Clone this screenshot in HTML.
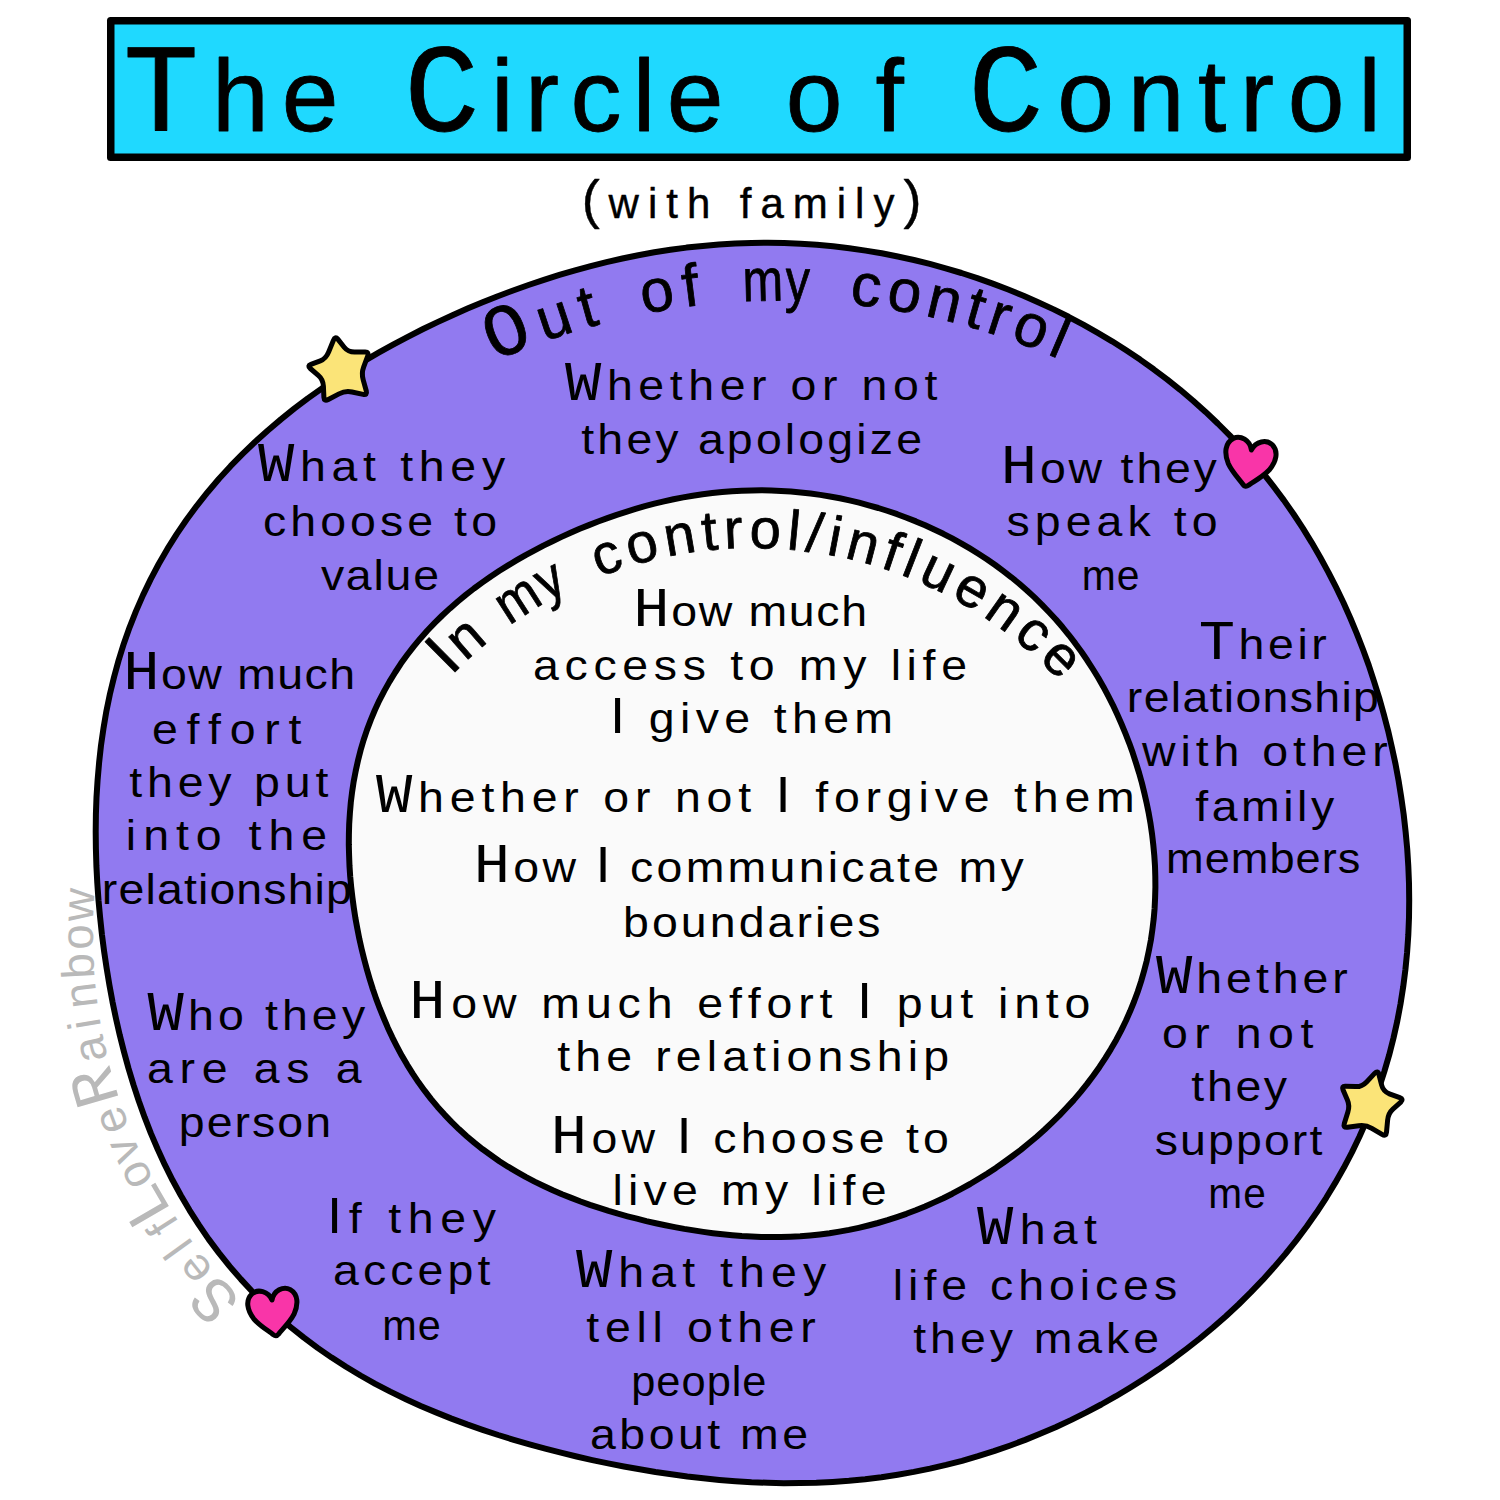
<!DOCTYPE html>
<html><head><meta charset="utf-8"><title>The Circle of Control</title>
<style>html,body{margin:0;padding:0;background:#fff;} svg{display:block;} text{font-family:"Liberation Sans", sans-serif;} .m{font-family:"Liberation Mono", monospace;}</style>
</head><body>
<svg width="1500" height="1500" viewBox="0 0 1500 1500">
<rect x="0" y="0" width="1500" height="1500" fill="#fff"/>
<rect x="107" y="17" width="1304" height="144" rx="3.5" fill="#000"/>
<rect x="114.5" y="24.5" width="1289" height="129" fill="#1fd9ff"/>
<path d="M1408.3 866.0 L1409.0 883.2 L1409.2 900.5 L1409.0 917.7 L1408.3 935.0 L1407.1 952.3 L1405.4 969.6 L1403.2 986.8 L1400.5 1004.0 L1397.3 1021.0 L1393.5 1038.0 L1389.2 1054.9 L1384.3 1071.6 L1378.9 1088.2 L1373.0 1104.6 L1366.5 1120.7 L1359.4 1136.7 L1351.9 1152.4 L1343.8 1167.8 L1335.2 1182.9 L1326.2 1197.8 L1316.7 1212.3 L1306.7 1226.5 L1296.3 1240.4 L1285.5 1253.9 L1274.2 1267.1 L1262.7 1279.9 L1250.7 1292.4 L1238.5 1304.5 L1225.9 1316.2 L1213.0 1327.5 L1199.8 1338.5 L1186.4 1349.0 L1172.8 1359.2 L1158.9 1369.1 L1144.7 1378.5 L1130.4 1387.5 L1115.9 1396.2 L1101.2 1404.5 L1086.3 1412.4 L1071.3 1419.9 L1056.1 1427.0 L1040.7 1433.6 L1025.2 1439.9 L1009.6 1445.7 L993.9 1451.2 L978.0 1456.2 L962.1 1460.8 L946.1 1464.9 L930.0 1468.6 L913.8 1471.9 L897.6 1474.7 L881.4 1477.2 L865.1 1479.2 L848.9 1480.8 L832.6 1481.9 L816.3 1482.7 L800.1 1483.1 L783.8 1483.2 L767.7 1482.8 L751.5 1482.2 L735.4 1481.2 L719.3 1479.9 L703.3 1478.3 L687.3 1476.5 L671.4 1474.3 L655.5 1472.0 L639.7 1469.3 L623.9 1466.5 L608.1 1463.4 L592.3 1460.1 L576.6 1456.5 L560.9 1452.7 L545.2 1448.7 L529.5 1444.4 L513.8 1439.8 L498.2 1435.0 L482.6 1429.8 L467.0 1424.4 L451.5 1418.6 L436.0 1412.4 L420.7 1405.9 L405.4 1398.9 L390.3 1391.6 L375.3 1383.8 L360.5 1375.5 L346.0 1366.8 L331.7 1357.6 L317.6 1347.9 L303.9 1337.7 L290.5 1327.0 L277.5 1315.8 L264.9 1304.1 L252.7 1292.0 L241.0 1279.4 L229.7 1266.4 L218.9 1252.9 L208.6 1239.1 L198.9 1224.9 L189.6 1210.3 L180.9 1195.5 L172.6 1180.3 L164.9 1164.9 L157.7 1149.2 L150.9 1133.4 L144.7 1117.4 L138.9 1101.2 L133.5 1084.9 L128.5 1068.4 L124.0 1051.9 L119.8 1035.3 L116.0 1018.6 L112.5 1001.8 L109.4 985.0 L106.6 968.1 L104.1 951.2 L101.9 934.3 L100.1 917.3 L98.5 900.2 L97.3 883.1 L96.4 866.0 L95.9 848.8 L95.7 831.6 L95.9 814.4 L96.5 797.2 L97.6 779.9 L99.1 762.7 L101.0 745.4 L103.5 728.3 L106.4 711.1 L109.9 694.1 L114.0 677.2 L118.6 660.4 L123.8 643.7 L129.6 627.3 L136.0 611.1 L143.0 595.1 L150.6 579.4 L158.7 564.0 L167.4 548.9 L176.7 534.1 L186.5 519.8 L196.8 505.8 L207.6 492.2 L218.8 479.0 L230.5 466.2 L242.6 453.9 L255.0 442.0 L267.8 430.5 L280.9 419.4 L294.2 408.7 L307.8 398.4 L321.6 388.6 L335.6 379.1 L349.8 369.9 L364.1 361.1 L378.6 352.7 L393.1 344.6 L407.8 336.8 L422.6 329.3 L437.5 322.1 L452.5 315.2 L467.5 308.6 L482.6 302.3 L497.8 296.2 L513.1 290.5 L528.5 285.0 L543.9 279.8 L559.4 274.9 L575.1 270.3 L590.7 266.1 L606.5 262.1 L622.4 258.5 L638.3 255.2 L654.3 252.3 L670.4 249.8 L686.5 247.6 L702.7 245.9 L718.9 244.5 L735.2 243.5 L751.5 242.9 L767.8 242.8 L784.1 243.0 L800.5 243.7 L816.8 244.8 L833.1 246.3 L849.3 248.2 L865.6 250.6 L881.7 253.3 L897.8 256.5 L913.9 260.0 L929.8 263.9 L945.7 268.3 L961.5 273.0 L977.2 278.1 L992.7 283.6 L1008.2 289.5 L1023.5 295.7 L1038.7 302.4 L1053.7 309.4 L1068.6 316.8 L1083.3 324.6 L1097.8 332.8 L1112.1 341.3 L1126.2 350.3 L1140.1 359.6 L1153.7 369.3 L1167.1 379.4 L1180.2 389.8 L1193.1 400.7 L1205.6 411.9 L1217.8 423.5 L1229.7 435.4 L1241.3 447.7 L1252.5 460.3 L1263.3 473.3 L1273.7 486.6 L1283.8 500.1 L1293.5 514.0 L1302.8 528.2 L1311.7 542.6 L1320.2 557.2 L1328.3 572.1 L1336.0 587.2 L1343.4 602.5 L1350.3 618.0 L1356.8 633.6 L1363.0 649.5 L1368.8 665.4 L1374.1 681.6 L1379.2 697.8 L1383.8 714.2 L1388.1 730.7 L1391.9 747.3 L1395.5 764.0 L1398.6 780.8 L1401.3 797.7 L1403.7 814.7 L1405.6 831.7 L1407.2 848.8 Z" fill="#917af0" stroke="#000" stroke-width="6.0" stroke-linejoin="round"/>
<path d="M1155.0 866.0 L1155.3 876.6 L1155.4 887.2 L1155.1 897.8 L1154.6 908.4 L1153.7 918.9 L1152.4 929.5 L1150.9 940.0 L1148.9 950.5 L1146.7 960.9 L1144.0 971.2 L1141.1 981.4 L1137.8 991.5 L1134.1 1001.5 L1130.1 1011.3 L1125.8 1021.0 L1121.1 1030.6 L1116.2 1039.9 L1110.9 1049.1 L1105.3 1058.1 L1099.5 1066.9 L1093.4 1075.5 L1087.1 1083.9 L1080.5 1092.1 L1073.7 1100.1 L1066.6 1107.8 L1059.4 1115.4 L1052.0 1122.7 L1044.5 1129.8 L1036.7 1136.7 L1028.8 1143.3 L1020.8 1149.8 L1012.6 1156.0 L1004.3 1162.0 L995.9 1167.9 L987.4 1173.5 L978.8 1178.8 L970.1 1184.0 L961.2 1188.9 L952.3 1193.7 L943.3 1198.2 L934.2 1202.4 L925.0 1206.5 L915.7 1210.3 L906.4 1213.8 L896.9 1217.1 L887.5 1220.2 L877.9 1223.0 L868.3 1225.5 L858.7 1227.8 L849.0 1229.9 L839.3 1231.6 L829.5 1233.2 L819.8 1234.4 L810.0 1235.4 L800.2 1236.2 L790.5 1236.7 L780.7 1237.0 L770.9 1237.1 L761.2 1236.9 L751.5 1236.5 L741.8 1236.0 L732.2 1235.2 L722.5 1234.3 L712.9 1233.2 L703.3 1231.9 L693.8 1230.4 L684.2 1228.9 L674.7 1227.1 L665.3 1225.2 L655.8 1223.2 L646.3 1221.1 L636.9 1218.7 L627.5 1216.3 L618.0 1213.7 L608.6 1210.9 L599.3 1207.9 L589.9 1204.8 L580.6 1201.5 L571.3 1197.9 L562.0 1194.2 L552.8 1190.2 L543.7 1186.0 L534.6 1181.6 L525.6 1176.9 L516.8 1171.9 L508.0 1166.7 L499.4 1161.2 L491.0 1155.3 L482.7 1149.3 L474.6 1142.9 L466.7 1136.2 L459.1 1129.3 L451.7 1122.1 L444.5 1114.6 L437.6 1106.9 L430.9 1098.9 L424.6 1090.7 L418.5 1082.3 L412.7 1073.6 L407.2 1064.8 L401.9 1055.8 L397.0 1046.6 L392.3 1037.3 L387.9 1027.9 L383.8 1018.3 L379.9 1008.7 L376.2 998.9 L372.8 989.0 L369.7 979.1 L366.8 969.1 L364.1 959.0 L361.6 948.9 L359.3 938.7 L357.3 928.4 L355.4 918.1 L353.8 907.8 L352.4 897.4 L351.2 887.0 L350.2 876.5 L349.5 866.0 L349.1 855.5 L348.8 844.9 L348.9 834.3 L349.2 823.7 L349.9 813.1 L350.8 802.5 L352.1 792.0 L353.7 781.4 L355.7 771.0 L358.0 760.5 L360.6 750.2 L363.6 740.0 L367.0 729.9 L370.8 719.9 L374.9 710.0 L379.4 700.3 L384.3 690.9 L389.5 681.6 L395.1 672.5 L400.9 663.6 L407.1 655.0 L413.6 646.6 L420.4 638.4 L427.4 630.5 L434.7 622.9 L442.2 615.5 L449.9 608.4 L457.8 601.5 L465.8 594.9 L474.0 588.5 L482.4 582.4 L490.8 576.5 L499.4 570.8 L508.1 565.4 L516.8 560.2 L525.6 555.1 L534.5 550.3 L543.4 545.6 L552.4 541.2 L561.5 536.9 L570.6 532.8 L579.7 528.8 L588.9 525.1 L598.1 521.5 L607.4 518.1 L616.7 514.8 L626.1 511.8 L635.5 508.9 L644.9 506.2 L654.4 503.7 L664.0 501.4 L673.5 499.3 L683.2 497.4 L692.8 495.7 L702.6 494.2 L712.3 493.0 L722.1 492.0 L731.9 491.2 L741.7 490.7 L751.5 490.4 L761.3 490.3 L771.2 490.5 L781.0 490.9 L790.9 491.5 L800.7 492.4 L810.5 493.5 L820.3 494.9 L830.0 496.5 L839.8 498.3 L849.5 500.4 L859.1 502.7 L868.7 505.3 L878.3 508.0 L887.8 511.0 L897.2 514.2 L906.6 517.7 L915.9 521.4 L925.1 525.3 L934.2 529.5 L943.3 533.8 L952.2 538.4 L961.1 543.3 L969.8 548.4 L978.4 553.7 L986.9 559.2 L995.2 565.0 L1003.4 571.1 L1011.4 577.3 L1019.3 583.8 L1027.0 590.5 L1034.5 597.4 L1041.8 604.6 L1048.9 612.0 L1055.9 619.5 L1062.6 627.3 L1069.1 635.3 L1075.3 643.4 L1081.4 651.8 L1087.2 660.3 L1092.8 669.0 L1098.2 677.8 L1103.3 686.7 L1108.2 695.9 L1112.9 705.1 L1117.3 714.5 L1121.5 724.0 L1125.5 733.6 L1129.3 743.3 L1132.8 753.1 L1136.0 763.0 L1139.1 773.0 L1141.9 783.0 L1144.4 793.2 L1146.7 803.4 L1148.8 813.7 L1150.6 824.1 L1152.1 834.5 L1153.3 844.9 L1154.3 855.5 Z" fill="#fafafa" stroke="#000" stroke-width="6.0" stroke-linejoin="round"/>
<text transform="translate(128.0 131.0) scale(1.000 1)" y="0" fill="#000" stroke="#000" stroke-width="0.8" stroke-linejoin="round" xml:space="preserve"><tspan x="-4.7" font-size="126.0" class="m">T</tspan><tspan x="84.0 153.8" font-size="102.0">he</tspan></text>
<text transform="translate(411.0 131.0) scale(1.000 1)" y="0" fill="#000" stroke="#000" stroke-width="0.8" stroke-linejoin="round" xml:space="preserve"><tspan x="-7.0" font-size="126.0" class="m">C</tspan><tspan x="80.0 114.1 159.4 221.8 255.8" font-size="102.0">ircle</tspan></text>
<text transform="translate(790.0 131.0) scale(1.000 1)" y="0" fill="#000" stroke="#000" stroke-width="0.8" stroke-linejoin="round" xml:space="preserve"><tspan x="-4.3 85.5" font-size="102.0">of</tspan></text>
<text transform="translate(975.0 131.0) scale(1.000 1)" y="0" fill="#000" stroke="#000" stroke-width="0.8" stroke-linejoin="round" xml:space="preserve"><tspan x="-7.0" font-size="126.0" class="m">C</tspan><tspan x="82.3 152.7 223.1 265.1 312.8 383.2" font-size="102.0">ontrol</tspan></text>
<text transform="translate(585.0 218.0) scale(1.000 1)" y="0" fill="#000" stroke="#000" stroke-width="0.4" stroke-linejoin="round" xml:space="preserve"><tspan x="-3.3" font-size="54.0">(</tspan><tspan x="23.6 62.9 81.2 101.9 134.2 154.8 175.5 207.8 251.8 270.1 288.4" font-size="42.0">with family</tspan><tspan x="318.4" font-size="54.0">)</tspan></text>
<text transform="translate(565.0 400.0) scale(1.080 1)" y="0" fill="#000" stroke="#000" stroke-width="0.0" stroke-linejoin="round" xml:space="preserve"><tspan x="-0.0" font-size="56.0" class="m">W</tspan><tspan x="38.8 67.9 97.0 114.1 143.2 172.3 191.8 208.9 238.0 257.5 274.6 303.7 332.8" font-size="43.0">hether or not</tspan></text>
<text transform="translate(582.0 454.0) scale(1.080 1)" y="0" fill="#000" stroke="#000" stroke-width="0.0" stroke-linejoin="round" xml:space="preserve"><tspan x="-0.7 14.2 41.1 67.9 92.4 107.3 134.1 161.0 187.8 200.3 227.2 254.0 266.5 291.0" font-size="43.0">they apologize</tspan></text>
<text transform="translate(258.0 481.0) scale(1.080 1)" y="0" fill="#000" stroke="#000" stroke-width="0.0" stroke-linejoin="round" xml:space="preserve"><tspan x="-0.0" font-size="56.0" class="m">W</tspan><tspan x="38.9 68.1 97.3 114.5 131.7 148.9 178.1 207.3" font-size="43.0">hat they</tspan></text>
<text transform="translate(265.0 536.0) scale(1.080 1)" y="0" fill="#000" stroke="#000" stroke-width="0.0" stroke-linejoin="round" xml:space="preserve"><tspan x="-1.8 23.4 51.1 78.8 106.5 131.7 159.4 175.1 190.9" font-size="43.0">choose to</tspan></text>
<text transform="translate(321.0 590.0) scale(1.080 1)" y="0" fill="#000" stroke="#000" stroke-width="0.0" stroke-linejoin="round" xml:space="preserve"><tspan x="-0.1 23.0 48.6 59.8 85.4" font-size="43.0">value</tspan></text>
<text transform="translate(1005.6 483.0) scale(1.080 1)" y="0" fill="#000" stroke="#000" stroke-width="0.0" stroke-linejoin="round" xml:space="preserve"><tspan x="-4.4" font-size="56.0" class="m">H</tspan><tspan x="31.8 58.3 92.0 106.5 121.1 147.6 174.1" font-size="43.0">ow they</tspan></text>
<text transform="translate(1007.7 536.0) scale(1.080 1)" y="0" fill="#000" stroke="#000" stroke-width="0.0" stroke-linejoin="round" xml:space="preserve"><tspan x="-1.2 25.0 53.7 82.3 110.9 137.1 153.8 170.5" font-size="43.0">speak to</tspan></text>
<text transform="translate(1084.5 589.5) scale(0.950 1)" y="0" fill="#000" stroke="#000" stroke-width="0.0" stroke-linejoin="round" xml:space="preserve"><tspan x="-2.9 34.0" font-size="43.0">me</tspan></text>
<text transform="translate(1201.0 659.0) scale(1.080 1)" y="0" fill="#000" stroke="#000" stroke-width="0.0" stroke-linejoin="round" xml:space="preserve"><tspan x="-2.1" font-size="56.0" class="m">T</tspan><tspan x="34.8 62.1 89.3 102.1" font-size="43.0">heir</tspan></text>
<text transform="translate(1130.0 712.0) scale(1.080 1)" y="0" fill="#000" stroke="#000" stroke-width="0.0" stroke-linejoin="round" xml:space="preserve"><tspan x="-2.9 12.7 37.8 48.6 73.7 86.9 97.7 122.8 148.0 170.7 195.8 206.6" font-size="43.0">relationship</tspan></text>
<text transform="translate(1142.0 766.0) scale(1.080 1)" y="0" fill="#000" stroke="#000" stroke-width="0.0" stroke-linejoin="round" xml:space="preserve"><tspan x="0.1 35.7 49.8 66.3 94.8 111.3 139.8 156.3 184.8 213.2" font-size="43.0">with other</tspan></text>
<text transform="translate(1196.0 821.0) scale(1.080 1)" y="0" fill="#000" stroke="#000" stroke-width="0.0" stroke-linejoin="round" xml:space="preserve"><tspan x="-0.6 14.6 41.7 80.8 93.6 106.4" font-size="43.0">family</tspan></text>
<text transform="translate(1169.0 873.0) scale(1.050 1)" y="0" fill="#000" stroke="#000" stroke-width="0.0" stroke-linejoin="round" xml:space="preserve"><tspan x="-2.9 34.0 58.9 95.7 120.6 145.5 160.8" font-size="43.0">members</tspan></text>
<text transform="translate(1156.0 993.0) scale(1.080 1)" y="0" fill="#000" stroke="#000" stroke-width="0.0" stroke-linejoin="round" xml:space="preserve"><tspan x="-0.0" font-size="56.0" class="m">W</tspan><tspan x="37.3 64.9 92.5 108.1 135.7 163.2" font-size="43.0">hether</tspan></text>
<text transform="translate(1164.0 1048.0) scale(1.080 1)" y="0" fill="#000" stroke="#000" stroke-width="0.0" stroke-linejoin="round" xml:space="preserve"><tspan x="-1.8 28.1 48.5 66.5 96.4 126.3" font-size="43.0">or not</tspan></text>
<text transform="translate(1192.0 1101.0) scale(1.080 1)" y="0" fill="#000" stroke="#000" stroke-width="0.0" stroke-linejoin="round" xml:space="preserve"><tspan x="-0.7 13.8 40.2 66.5" font-size="43.0">they</tspan></text>
<text transform="translate(1156.0 1155.0) scale(1.080 1)" y="0" fill="#000" stroke="#000" stroke-width="0.0" stroke-linejoin="round" xml:space="preserve"><tspan x="-1.2 22.3 48.1 74.0 99.9 125.8 142.1" font-size="43.0">support</tspan></text>
<text transform="translate(1211.0 1208.0) scale(0.945 1)" y="0" fill="#000" stroke="#000" stroke-width="0.0" stroke-linejoin="round" xml:space="preserve"><tspan x="-2.9 34.0" font-size="43.0">me</tspan></text>
<text transform="translate(128.0 689.0) scale(1.080 1)" y="0" fill="#000" stroke="#000" stroke-width="0.0" stroke-linejoin="round" xml:space="preserve"><tspan x="-4.4" font-size="56.0" class="m">H</tspan><tspan x="30.5 55.7 88.0 101.2 138.3 163.5 186.3" font-size="43.0">ow much</tspan></text>
<text transform="translate(154.0 744.0) scale(1.080 1)" y="0" fill="#000" stroke="#000" stroke-width="0.0" stroke-linejoin="round" xml:space="preserve"><tspan x="-1.8 30.1 50.1 70.1 102.1 124.5" font-size="43.0">effort</tspan></text>
<text transform="translate(130.0 797.0) scale(1.080 1)" y="0" fill="#000" stroke="#000" stroke-width="0.0" stroke-linejoin="round" xml:space="preserve"><tspan x="-0.7 15.8 44.2 72.5 98.5 114.9 143.3 171.7" font-size="43.0">they put</tspan></text>
<text transform="translate(129.0 850.0) scale(1.080 1)" y="0" fill="#000" stroke="#000" stroke-width="0.0" stroke-linejoin="round" xml:space="preserve"><tspan x="-2.9 13.1 43.5 61.9 92.3 110.7 129.1 159.5" font-size="43.0">into the</tspan></text>
<text transform="translate(105.0 904.0) scale(1.080 1)" y="0" fill="#000" stroke="#000" stroke-width="0.0" stroke-linejoin="round" xml:space="preserve"><tspan x="-2.9 12.5 37.5 48.1 73.1 86.1 96.7 121.6 146.6 169.2 194.1 204.7" font-size="43.0">relationship</tspan></text>
<text transform="translate(147.5 1030.0) scale(1.080 1)" y="0" fill="#000" stroke="#000" stroke-width="0.0" stroke-linejoin="round" xml:space="preserve"><tspan x="-0.0" font-size="56.0" class="m">W</tspan><tspan x="37.4 65.2 92.9 108.7 124.5 152.2 180.0" font-size="43.0">ho they</tspan></text>
<text transform="translate(149.0 1083.0) scale(1.080 1)" y="0" fill="#000" stroke="#000" stroke-width="0.0" stroke-linejoin="round" xml:space="preserve"><tspan x="-1.8 28.3 48.8 78.9 97.1 127.2 154.9 173.0" font-size="43.0">are as a</tspan></text>
<text transform="translate(181.7 1136.7) scale(1.080 1)" y="0" fill="#000" stroke="#000" stroke-width="0.0" stroke-linejoin="round" xml:space="preserve"><tspan x="-2.8 23.1 48.9 65.1 88.5 114.3" font-size="43.0">person</tspan></text>
<text transform="translate(332.0 1233.0) scale(1.080 1)" y="0" fill="#000" stroke="#000" stroke-width="0.0" stroke-linejoin="round" xml:space="preserve"><tspan x="-4.7" font-size="50.4">I</tspan><tspan x="15.6 33.8 52.0 70.1 100.3 130.4" font-size="43.0">f they</tspan></text>
<text transform="translate(335.0 1285.0) scale(1.080 1)" y="0" fill="#000" stroke="#000" stroke-width="0.0" stroke-linejoin="round" xml:space="preserve"><tspan x="-1.8 25.9 51.2 76.5 104.2 131.9" font-size="43.0">accept</tspan></text>
<text transform="translate(385.0 1340.0) scale(0.963 1)" y="0" fill="#000" stroke="#000" stroke-width="0.0" stroke-linejoin="round" xml:space="preserve"><tspan x="-2.9 34.0" font-size="43.0">me</tspan></text>
<text transform="translate(576.0 1287.0) scale(1.080 1)" y="0" fill="#000" stroke="#000" stroke-width="0.0" stroke-linejoin="round" xml:space="preserve"><tspan x="-0.0" font-size="56.0" class="m">W</tspan><tspan x="39.2 68.8 98.3 115.9 133.4 151.0 180.5 210.1" font-size="43.0">hat they</tspan></text>
<text transform="translate(587.0 1342.0) scale(1.080 1)" y="0" fill="#000" stroke="#000" stroke-width="0.0" stroke-linejoin="round" xml:space="preserve"><tspan x="-0.7 16.6 45.8 60.6 75.5 92.7 121.9 139.1 168.3 197.5" font-size="43.0">tell other</tspan></text>
<text transform="translate(634.0 1396.0) scale(1.009 1)" y="0" fill="#000" stroke="#000" stroke-width="0.0" stroke-linejoin="round" xml:space="preserve"><tspan x="-2.8 22.1 47.1 72.0 96.9 107.4" font-size="43.0">people</tspan></text>
<text transform="translate(592.0 1449.0) scale(1.080 1)" y="0" fill="#000" stroke="#000" stroke-width="0.0" stroke-linejoin="round" xml:space="preserve"><tspan x="-1.8 25.3 52.5 79.6 106.7 121.9 137.1 176.1" font-size="43.0">about me</tspan></text>
<text transform="translate(977.0 1244.0) scale(1.080 1)" y="0" fill="#000" stroke="#000" stroke-width="0.0" stroke-linejoin="round" xml:space="preserve"><tspan x="-0.0" font-size="56.0" class="m">W</tspan><tspan x="39.5 69.2 99.0" font-size="43.0">hat</tspan></text>
<text transform="translate(896.0 1300.0) scale(1.080 1)" y="0" fill="#000" stroke="#000" stroke-width="0.0" stroke-linejoin="round" xml:space="preserve"><tspan x="-2.9 11.2 25.4 41.9 70.4 87.0 113.1 141.6 170.1 184.2 210.3 238.9" font-size="43.0">life choices</tspan></text>
<text transform="translate(914.0 1353.0) scale(1.080 1)" y="0" fill="#000" stroke="#000" stroke-width="0.0" stroke-linejoin="round" xml:space="preserve"><tspan x="-0.7 14.9 42.5 70.1 95.2 110.8 150.3 177.8 203.0" font-size="43.0">they make</tspan></text>
<text transform="translate(638.0 626.0) scale(1.080 1)" y="0" fill="#000" stroke="#000" stroke-width="0.0" stroke-linejoin="round" xml:space="preserve"><tspan x="-4.4" font-size="56.0" class="m">H</tspan><tspan x="30.7 56.2 88.8 102.3 139.6 165.1 188.1" font-size="43.0">ow much</tspan></text>
<text transform="translate(535.0 680.0) scale(1.080 1)" y="0" fill="#000" stroke="#000" stroke-width="0.0" stroke-linejoin="round" xml:space="preserve"><tspan x="-1.8 27.3 54.1 80.9 110.0 136.8 163.5 180.7 197.9 227.1 244.3 285.4 312.1 329.3 344.1 358.9 376.1" font-size="43.0">access to my life</tspan></text>
<text transform="translate(615.0 733.0) scale(1.080 1)" y="0" fill="#000" stroke="#000" stroke-width="0.0" stroke-linejoin="round" xml:space="preserve"><tspan x="-4.7" font-size="50.4">I</tspan><tspan x="14.3 31.2 60.1 74.7 101.1 130.0 146.9 163.9 192.8 221.6" font-size="43.0"> give them</tspan></text>
<text transform="translate(376.0 812.0) scale(1.080 1)" y="0" fill="#000" stroke="#000" stroke-width="0.0" stroke-linejoin="round" xml:space="preserve"><tspan x="-0.0" font-size="56.0" class="m">W</tspan><tspan x="39.0 68.3 97.6 114.9 144.2 173.5 193.2 210.5 239.8 259.5 276.8 306.1 335.4 352.7" font-size="43.0">hether or not </tspan><tspan x="370.0" font-size="50.4">I</tspan><tspan x="389.4 406.7 424.0 453.3 473.0 502.3 517.3 544.1 573.4 590.7 608.1 637.4 666.6" font-size="43.0"> forgive them</tspan></text>
<text transform="translate(478.5 881.6) scale(1.080 1)" y="0" fill="#000" stroke="#000" stroke-width="0.0" stroke-linejoin="round" xml:space="preserve"><tspan x="-4.4" font-size="56.0" class="m">H</tspan><tspan x="32.2 59.2 93.3" font-size="43.0">ow </tspan><tspan x="108.3" font-size="50.4">I</tspan><tspan x="125.3 140.3 164.8 191.8 230.6 269.5 296.5 323.4 336.0 360.6 387.5 402.5 429.5 444.4 483.3" font-size="43.0"> communicate my</tspan></text>
<text transform="translate(626.0 937.0) scale(1.080 1)" y="0" fill="#000" stroke="#000" stroke-width="0.0" stroke-linejoin="round" xml:space="preserve"><tspan x="-2.8 24.0 50.8 77.5 104.3 131.0 157.8 175.0 187.4 214.1" font-size="43.0">boundaries</tspan></text>
<text transform="translate(414.0 1017.6) scale(1.080 1)" y="0" fill="#000" stroke="#000" stroke-width="0.0" stroke-linejoin="round" xml:space="preserve"><tspan x="-4.4" font-size="56.0" class="m">H</tspan><tspan x="34.6 64.0 100.5 117.9 159.2 188.5 215.5 244.8 262.2 291.6 309.0 326.4 355.7 375.5 392.9" font-size="43.0">ow much effort </tspan><tspan x="410.3" font-size="50.4">I</tspan><tspan x="429.8 447.1 476.5 505.9 523.3 540.7 555.7 585.0 602.4" font-size="43.0"> put into</tspan></text>
<text transform="translate(558.0 1071.0) scale(1.080 1)" y="0" fill="#000" stroke="#000" stroke-width="0.0" stroke-linejoin="round" xml:space="preserve"><tspan x="-0.7 16.0 44.7 73.3 90.0 109.1 137.7 152.0 180.6 197.3 211.6 240.3 268.9 295.1 323.8 338.1" font-size="43.0">the relationship</tspan></text>
<text transform="translate(555.6 1153.0) scale(1.080 1)" y="0" fill="#000" stroke="#000" stroke-width="0.0" stroke-linejoin="round" xml:space="preserve"><tspan x="-4.4" font-size="56.0" class="m">H</tspan><tspan x="33.2 61.0 96.1" font-size="43.0">ow </tspan><tspan x="112.0" font-size="50.4">I</tspan><tspan x="130.0 145.9 171.4 199.3 227.2 255.1 280.6 308.4 324.4 340.3" font-size="43.0"> choose to</tspan></text>
<text transform="translate(615.6 1204.8) scale(1.080 1)" y="0" fill="#000" stroke="#000" stroke-width="0.0" stroke-linejoin="round" xml:space="preserve"><tspan x="-2.9 11.5 25.9 52.2 80.9 97.7 138.3 164.7 181.4 195.8 210.2 227.0" font-size="43.0">live my life</tspan></text>
<text x="0" y="0" font-size="74.0" class="m" text-anchor="middle" transform="translate(514.77 352.92) rotate(-22.35)" fill="#000" stroke="#000" stroke-width="0.8" stroke-linejoin="round">O</text>
<text x="0" y="0" font-size="60.0" text-anchor="middle" transform="translate(559.85 336.18) rotate(-18.39)" fill="#000" stroke="#000" stroke-width="0.8" stroke-linejoin="round">u</text>
<text x="0" y="0" font-size="60.0" text-anchor="middle" transform="translate(592.58 326.18) rotate(-15.58)" fill="#000" stroke="#000" stroke-width="0.8" stroke-linejoin="round">t</text>
<text x="0" y="0" font-size="60.0" text-anchor="middle" transform="translate(659.92 310.96) rotate(-9.90)" fill="#000" stroke="#000" stroke-width="0.8" stroke-linejoin="round">o</text>
<text x="0" y="0" font-size="60.0" text-anchor="middle" transform="translate(692.75 306.04) rotate(-7.16)" fill="#000" stroke="#000" stroke-width="0.8" stroke-linejoin="round">f</text>
<text x="0" y="0" font-size="60.0" text-anchor="middle" transform="translate(763.18 300.79) rotate(-1.35) scale(0.810 1)" fill="#000" stroke="#000" stroke-width="0.8" stroke-linejoin="round">m</text>
<text x="0" y="0" font-size="60.0" text-anchor="middle" transform="translate(797.09 300.82) rotate(1.44) scale(0.810 1)" fill="#000" stroke="#000" stroke-width="0.8" stroke-linejoin="round">y</text>
<text x="0" y="0" font-size="60.0" text-anchor="middle" transform="translate(864.11 305.75) rotate(6.97)" fill="#000" stroke="#000" stroke-width="0.8" stroke-linejoin="round">c</text>
<text x="0" y="0" font-size="60.0" text-anchor="middle" transform="translate(901.61 311.37) rotate(10.09)" fill="#000" stroke="#000" stroke-width="0.8" stroke-linejoin="round">o</text>
<text x="0" y="0" font-size="60.0" text-anchor="middle" transform="translate(940.39 319.42) rotate(13.35)" fill="#000" stroke="#000" stroke-width="0.8" stroke-linejoin="round">n</text>
<text x="0" y="0" font-size="60.0" text-anchor="middle" transform="translate(970.64 327.32) rotate(15.92)" fill="#000" stroke="#000" stroke-width="0.8" stroke-linejoin="round">t</text>
<text x="0" y="0" font-size="60.0" text-anchor="middle" transform="translate(994.14 334.47) rotate(17.94)" fill="#000" stroke="#000" stroke-width="0.8" stroke-linejoin="round">r</text>
<text x="0" y="0" font-size="60.0" text-anchor="middle" transform="translate(1025.20 345.35) rotate(20.65)" fill="#000" stroke="#000" stroke-width="0.8" stroke-linejoin="round">o</text>
<text x="0" y="0" font-size="60.0" text-anchor="middle" transform="translate(1052.67 356.37) rotate(23.09)" fill="#000" stroke="#000" stroke-width="0.8" stroke-linejoin="round">l</text>
<text x="0" y="0" font-size="62.0" text-anchor="middle" transform="translate(457.07 669.95) rotate(-44.82)" fill="#000" stroke="#000" stroke-width="0.8" stroke-linejoin="round">I</text>
<text x="0" y="0" font-size="56.0" text-anchor="middle" transform="translate(476.89 651.48) rotate(-41.13)" fill="#000" stroke="#000" stroke-width="0.8" stroke-linejoin="round">n</text>
<text x="0" y="0" font-size="56.0" text-anchor="middle" transform="translate(526.85 614.02) rotate(-32.60) scale(0.912 1)" fill="#000" stroke="#000" stroke-width="0.8" stroke-linejoin="round">m</text>
<text x="0" y="0" font-size="56.0" text-anchor="middle" transform="translate(557.58 596.16) rotate(-27.74) scale(0.912 1)" fill="#000" stroke="#000" stroke-width="0.8" stroke-linejoin="round">y</text>
<text x="0" y="0" font-size="56.0" text-anchor="middle" transform="translate(612.25 572.20) rotate(-19.59)" fill="#000" stroke="#000" stroke-width="0.8" stroke-linejoin="round">c</text>
<text x="0" y="0" font-size="56.0" text-anchor="middle" transform="translate(646.11 561.74) rotate(-14.75)" fill="#000" stroke="#000" stroke-width="0.8" stroke-linejoin="round">o</text>
<text x="0" y="0" font-size="56.0" text-anchor="middle" transform="translate(682.29 553.90) rotate(-9.70)" fill="#000" stroke="#000" stroke-width="0.8" stroke-linejoin="round">n</text>
<text x="0" y="0" font-size="56.0" text-anchor="middle" transform="translate(711.25 549.98) rotate(-5.71)" fill="#000" stroke="#000" stroke-width="0.8" stroke-linejoin="round">t</text>
<text x="0" y="0" font-size="56.0" text-anchor="middle" transform="translate(734.17 548.32) rotate(-2.57)" fill="#000" stroke="#000" stroke-width="0.8" stroke-linejoin="round">r</text>
<text x="0" y="0" font-size="56.0" text-anchor="middle" transform="translate(764.94 548.07) rotate(1.63)" fill="#000" stroke="#000" stroke-width="0.8" stroke-linejoin="round">o</text>
<text x="0" y="0" font-size="56.0" text-anchor="middle" transform="translate(792.56 549.77) rotate(5.41)" fill="#000" stroke="#000" stroke-width="0.8" stroke-linejoin="round">l</text>
<text x="0" y="0" font-size="56.0" text-anchor="middle" transform="translate(812.30 552.11) rotate(8.12)" fill="#000" stroke="#000" stroke-width="0.8" stroke-linejoin="round">/</text>
<text x="0" y="0" font-size="56.0" text-anchor="middle" transform="translate(831.90 555.38) rotate(10.83)" fill="#000" stroke="#000" stroke-width="0.8" stroke-linejoin="round">i</text>
<text x="0" y="0" font-size="56.0" text-anchor="middle" transform="translate(858.89 561.48) rotate(14.61)" fill="#000" stroke="#000" stroke-width="0.8" stroke-linejoin="round">n</text>
<text x="0" y="0" font-size="56.0" text-anchor="middle" transform="translate(886.90 569.83) rotate(18.60)" fill="#000" stroke="#000" stroke-width="0.8" stroke-linejoin="round">f</text>
<text x="0" y="0" font-size="56.0" text-anchor="middle" transform="translate(905.59 576.61) rotate(21.31)" fill="#000" stroke="#000" stroke-width="0.8" stroke-linejoin="round">l</text>
<text x="0" y="0" font-size="56.0" text-anchor="middle" transform="translate(931.02 587.51) rotate(25.09)" fill="#000" stroke="#000" stroke-width="0.8" stroke-linejoin="round">u</text>
<text x="0" y="0" font-size="56.0" text-anchor="middle" transform="translate(963.81 604.67) rotate(30.14)" fill="#000" stroke="#000" stroke-width="0.8" stroke-linejoin="round">e</text>
<text x="0" y="0" font-size="56.0" text-anchor="middle" transform="translate(994.97 624.65) rotate(35.20)" fill="#000" stroke="#000" stroke-width="0.8" stroke-linejoin="round">n</text>
<text x="0" y="0" font-size="56.0" text-anchor="middle" transform="translate(1023.04 646.28) rotate(40.04)" fill="#000" stroke="#000" stroke-width="0.8" stroke-linejoin="round">c</text>
<text x="0" y="0" font-size="56.0" text-anchor="middle" transform="translate(1049.19 670.21) rotate(44.87)" fill="#000" stroke="#000" stroke-width="0.8" stroke-linejoin="round">e</text>
<text x="0" y="0" font-size="64" class="m" text-anchor="middle" transform="translate(229.0 1286.6) rotate(227.7)" fill="#b9b9b9" stroke="#b9b9b9" stroke-width="0">S</text>
<text x="0" y="0" font-size="46" text-anchor="middle" transform="translate(206.3 1260.0) rotate(231.5)" fill="#b9b9b9" stroke="#b9b9b9" stroke-width="0">e</text>
<text x="0" y="0" font-size="46" text-anchor="middle" transform="translate(191.1 1239.9) rotate(234.3)" fill="#b9b9b9" stroke="#b9b9b9" stroke-width="0">l</text>
<text x="0" y="0" font-size="46" text-anchor="middle" transform="translate(176.0 1217.7) rotate(237.3)" fill="#b9b9b9" stroke="#b9b9b9" stroke-width="0">f</text>
<text x="0" y="0" font-size="64" class="m" text-anchor="middle" transform="translate(162.8 1195.9) rotate(240.0)" fill="#b9b9b9" stroke="#b9b9b9" stroke-width="0">L</text>
<text x="0" y="0" font-size="46" text-anchor="middle" transform="translate(148.2 1168.9) rotate(243.4)" fill="#b9b9b9" stroke="#b9b9b9" stroke-width="0">o</text>
<text x="0" y="0" font-size="46" text-anchor="middle" transform="translate(136.9 1144.7) rotate(246.3)" fill="#b9b9b9" stroke="#b9b9b9" stroke-width="0">v</text>
<text x="0" y="0" font-size="46" text-anchor="middle" transform="translate(125.2 1115.6) rotate(249.8)" fill="#b9b9b9" stroke="#b9b9b9" stroke-width="0">e</text>
<text x="0" y="0" font-size="64" class="m" text-anchor="middle" transform="translate(114.0 1081.9) rotate(253.7)" fill="#b9b9b9" stroke="#b9b9b9" stroke-width="0">R</text>
<text x="0" y="0" font-size="46" text-anchor="middle" transform="translate(104.9 1046.3) rotate(257.7)" fill="#b9b9b9" stroke="#b9b9b9" stroke-width="0">a</text>
<text x="0" y="0" font-size="46" text-anchor="middle" transform="translate(100.1 1021.5) rotate(260.5)" fill="#b9b9b9" stroke="#b9b9b9" stroke-width="0">i</text>
<text x="0" y="0" font-size="46" text-anchor="middle" transform="translate(96.2 993.7) rotate(263.5)" fill="#b9b9b9" stroke="#b9b9b9" stroke-width="0">n</text>
<text x="0" y="0" font-size="46" text-anchor="middle" transform="translate(93.8 965.2) rotate(266.7)" fill="#b9b9b9" stroke="#b9b9b9" stroke-width="0">b</text>
<text x="0" y="0" font-size="46" text-anchor="middle" transform="translate(92.9 936.9) rotate(269.8)" fill="#b9b9b9" stroke="#b9b9b9" stroke-width="0">o</text>
<text x="0" y="0" font-size="46" text-anchor="middle" transform="translate(93.7 905.7) rotate(-86.8)" fill="#b9b9b9" stroke="#b9b9b9" stroke-width="0">w</text>
<path d="M333.3 340.6 Q335.2 336.0 337.8 339.2 L344.2 347.2 Q348.1 352.0 354.5 352.0 L365.1 352.0 Q369.3 351.9 367.7 356.2 L363.7 366.9 Q361.3 373.3 363.2 379.9 L366.3 391.0 Q367.5 395.4 363.1 394.4 L352.0 392.0 Q345.4 390.5 339.0 393.9 L328.3 399.5 Q324.1 401.8 323.9 397.3 L323.4 386.1 Q323.1 379.4 318.3 375.3 L310.3 368.5 Q307.1 365.7 310.9 364.3 L320.3 360.8 Q325.9 358.8 328.7 351.9 Z" fill="#fbe478" stroke="#000" stroke-width="5" stroke-linejoin="round"/>
<path d="M1374.6 1073.4 Q1377.8 1070.1 1378.9 1074.3 L1381.6 1085.0 Q1383.2 1091.4 1389.4 1093.8 L1399.8 1097.7 Q1403.9 1099.3 1400.8 1102.1 L1392.9 1109.2 Q1388.2 1113.4 1387.6 1120.4 L1386.5 1132.2 Q1386.1 1136.8 1382.0 1134.4 L1371.8 1128.3 Q1365.7 1124.7 1358.8 1125.7 L1347.4 1127.3 Q1342.9 1127.9 1344.3 1123.5 L1347.8 1112.2 Q1349.9 1105.5 1347.3 1099.7 L1343.1 1089.9 Q1341.4 1086.0 1345.4 1086.2 L1355.6 1086.6 Q1361.7 1086.9 1366.6 1081.9 Z" fill="#fbe478" stroke="#000" stroke-width="5" stroke-linejoin="round"/>
<path d="M0 -10 C-3 -20 -14 -24 -21 -19 C-29 -13 -28 -2 -22 8 C-16 17 -6 24 -3 27.5 Q0 30.5 3 27.5 C6 24 16 17 22 8 C28 -2 29 -13 21 -19 C14 -24 3 -20 0 -10 Z" transform="translate(1248.4 468.6) rotate(9.2) scale(0.942) translate(0 -10)" fill="#f935a8" stroke="#000" stroke-width="5.31" stroke-linejoin="round"/>
<path d="M0 -10 C-3 -20 -14 -24 -21 -19 C-29 -13 -28 -2 -22 8 C-16 17 -6 24 -3 27.5 Q0 30.5 3 27.5 C6 24 16 17 22 8 C28 -2 29 -13 21 -19 C14 -24 3 -20 0 -10 Z" transform="translate(274.1 1318.3) rotate(-6.5) scale(0.921) translate(0 -10)" fill="#f935a8" stroke="#000" stroke-width="5.43" stroke-linejoin="round"/>
</svg>
</body></html>
